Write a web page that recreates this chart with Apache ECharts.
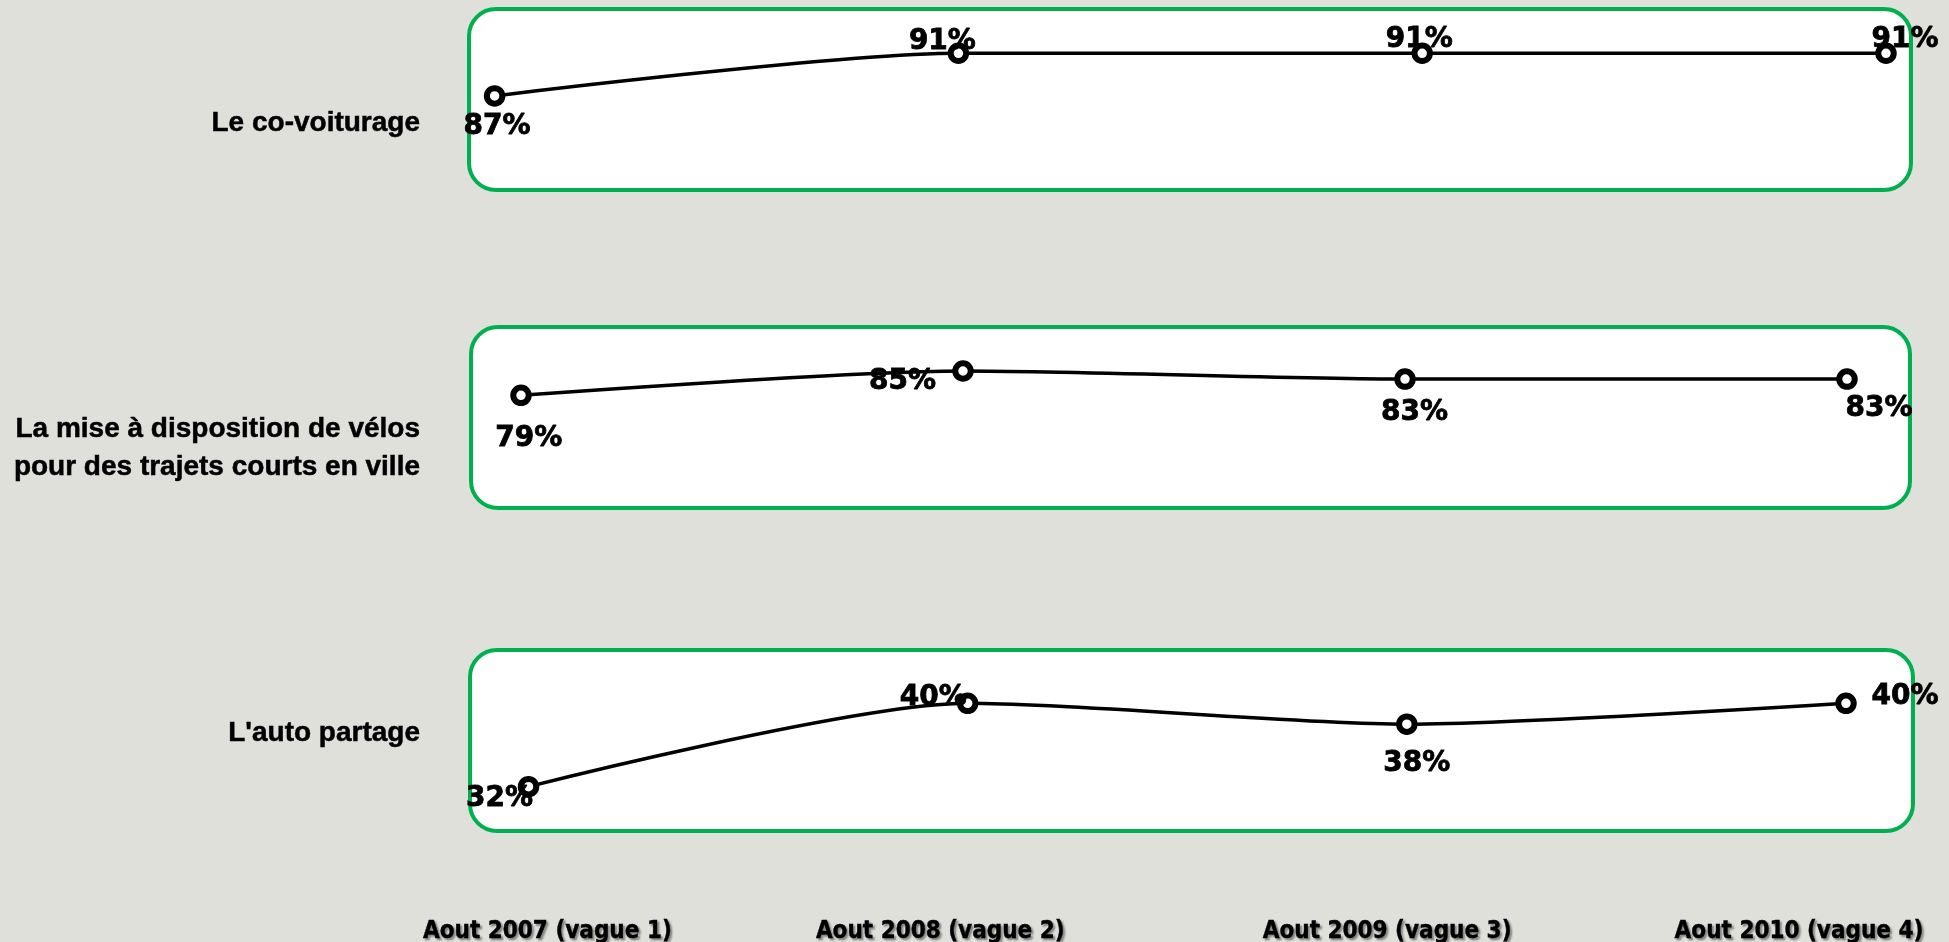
<!DOCTYPE html>
<html>
<head>
<meta charset="utf-8">
<script src="https://cdn.jsdelivr.net/npm/echarts@6/dist/echarts.min.js"></script>
<style>
html,body{margin:0;padding:0;background:#dfe0da;}
#chart{width:1949px;height:942px;}
</style>
</head>
<body>
<div id="chart"></div>
<script>
// ---- data ----
var categories = ['Aout 2007 (vague 1)', 'Aout 2008 (vague 2)', 'Aout 2009 (vague 3)', 'Aout 2010 (vague 4)'];
var rowLabels = ['Le co-voiturage', 'La mise à disposition de vélos\npour des trajets courts en ville', "L'auto partage"];
var covoiturage = [87, 91, 91, 91];
var velos = [79, 85, 83, 83];
var autoPartage = [32, 40, 38, 40];

// ---- layout / style (not data) ----
var seriesData = [covoiturage, velos, autoPartage];
var grids = [
  {left: 494.6, right: 63, top: 10.6, height: 160},
  {left: 521, right: 102, top: 350.75, height: 81},
  {left: 528.5, right: 103, top: 651.2, height: 208.4},
  {left: 536.4, right: 150, top: 882, height: 20}
];
var yRanges = [[80, 95], [70, 90], [25, 45], [0, 1]];
var boxes = [[469, 9, 1442, 181], [471, 327, 1439, 181], [470, 650, 1443, 181]];
var rowLabelY = [123.3, 448, 733];
var tickLabelPadding = [[0, 0, 0, 22], [0, 34, 0, 0], [0, 0, 0, 18], [0, 0, 0, 0]];
var labelOffsets = [
  [[2.5, 31], [-16, -11.5], [-3, -13.5], [19, -13.5]],
  [[7.7, 43], [-60.5, 10.5], [9.6, 33.7], [32, 30]],
  [[-29, 12.3], [-34.4, -5.3], [10, 40], [59, -6.3]]
];

var chart = echarts.init(document.getElementById('chart'));

var tickFont = {
  color: '#000', fontWeight: 'bold', fontSize: 24,
  fontFamily: '"DejaVu Sans Condensed", "DejaVu Sans"',
  verticalAlign: 'middle', align: 'center',
  textBorderColor: '#000', textBorderWidth: 0.4,
  textShadowColor: 'rgba(0,0,0,0.4)', textShadowBlur: 2,
  textShadowOffsetX: 2, textShadowOffsetY: 2
};

var xAxes = grids.map(function (g, i) {
  return {
    type: 'category', gridIndex: i, boundaryGap: false,
    data: categories.map(function (c, j) {
      return i === 3 ? {value: c, textStyle: Object.assign({padding: tickLabelPadding[j]}, tickFont)} : c;
    }),
    show: i === 3,
    axisLine: {show: false}, axisTick: {show: false}, splitLine: {show: false},
    axisLabel: Object.assign({show: i === 3, interval: 0, margin: 29.7}, tickFont)
  };
});
var yAxes = grids.map(function (g, i) {
  return {type: 'value', gridIndex: i, min: yRanges[i][0], max: yRanges[i][1], show: false, splitLine: {show: false}};
});

var series = seriesData.map(function (vals, i) {
  return {
    type: 'line', xAxisIndex: i, yAxisIndex: i, smooth: 0.25,
    silent: true, z: 3,
    symbol: 'circle', symbolSize: 15.5,
    lineStyle: {color: '#000', width: 3.5},
    itemStyle: {color: '#ffffff', borderColor: '#000000', borderWidth: 6},
    data: vals.map(function (v, j) {
      return {
        value: v,
        label: {offset: labelOffsets[i][j]}
      };
    }),
    label: {
      show: true, position: 'inside', formatter: '{c}%',
      color: '#000', fontWeight: 'bold', fontSize: 28, fontFamily: '"DejaVu Sans"',
      textBorderColor: '#000', textBorderWidth: 0.8,
      align: 'center', verticalAlign: 'middle'
    },
    emphasis: {disabled: true}
  };
});

var graphic = boxes.map(function (b) {
  return {
    type: 'rect', z: 0, silent: true,
    shape: {x: b[0], y: b[1], width: b[2], height: b[3], r: 27},
    style: {fill: '#ffffff', stroke: '#00b050', lineWidth: 4}
  };
}).concat(rowLabels.map(function (t, i) {
  return {
    type: 'text', z: 1, silent: true, x: 420, y: rowLabelY[i],
    style: {
      text: t, fill: '#000', fontSize: 28, fontWeight: 'bold',
      fontFamily: '"Liberation Sans", Arial, sans-serif',
      stroke: '#000', lineWidth: 0.5,
      align: 'right', verticalAlign: 'middle', lineHeight: 38
    }
  };
}));

chart.setOption({
  backgroundColor: '#dfe0da',
  animation: false,
  grid: grids.map(function (g) { return Object.assign({outerBoundsMode: 'none', containLabel: false}, g); }),
  xAxis: xAxes,
  yAxis: yAxes,
  series: series,
  graphic: graphic
});
</script>
</body>
</html>
